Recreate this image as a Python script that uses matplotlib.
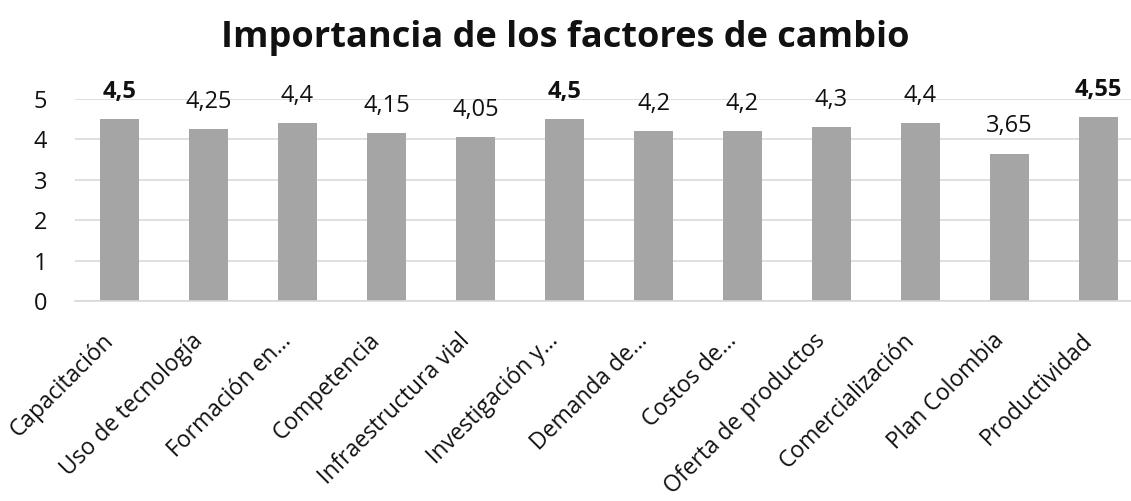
import matplotlib.pyplot as plt
import matplotlib.transforms as mtransforms
import numpy as np

plt.rcParams['font.family'] = ['Open Sans', 'DejaVu Sans']

# data
factores = ['Capacitación', 'Uso de tecnología', 'Formación en...', 'Competencia',
            'Infraestructura vial', 'Investigación y...', 'Demanda de...', 'Costos de...',
            'Oferta de productos', 'Comercialización', 'Plan Colombia', 'Productividad']
valores = [4.5, 4.25, 4.4, 4.15, 4.05, 4.5, 4.2, 4.2, 4.3, 4.4, 3.65, 4.55]
etiquetas = ['4,5', '4,25', '4,4', '4,15', '4,05', '4,5', '4,2', '4,2', '4,3', '4,4', '3,65', '4,55']
negrita = [True, False, False, False, False, True, False, False, False, False, False, True]

fig = plt.figure(figsize=(11.31, 5.01), dpi=100)
## axes run a bit past the right edge, like the cropped original
ax = fig.add_axes((75 / 1131, 200 / 501, 1068 / 1131, 202 / 501))

x = np.arange(len(factores))
ax.bar(x, valores, width=0.44, color='#A5A5A5', zorder=2)

for xi, v, lab, b in zip(x, valores, etiquetas, negrita):
    ax.annotate(lab, (xi, v), xytext=(0, 11), textcoords='offset points',
                ha='center', va='bottom', fontsize=17,
                fontweight='bold' if b else 'normal', color='#111111',
                annotation_clip=False)

ax.set_xlim(-0.5, 11.5)
ax.set_ylim(0, 5)
ax.set_yticks(range(6))
ax.yaxis.grid(True, color='#D9D9D9', linewidth=1.2, zorder=0)
ax.set_axisbelow(True)
for s in ['top', 'right', 'left']:
    ax.spines[s].set_visible(False)
ax.spines['bottom'].set_color('#D9D9D9')
ax.spines['bottom'].set_linewidth(1.2)
ax.tick_params(axis='both', length=0, labelsize=17, colors='#111111')
ax.tick_params(axis='y', pad=20)
ax.set_xticks(x)
ax.set_xticklabels(factores, rotation=45, ha='right', va='top', rotation_mode='anchor',
                   fontsize=16.5)
ax.tick_params(axis='x', pad=20)
## nudge the slanted labels a little to the left
shift = mtransforms.ScaledTranslation(-18 / 100, 0, fig.dpi_scale_trans)
for t in ax.get_xticklabels():
    t.set_transform(t.get_transform() + shift)

fig.text(0.5, 1 - 47 / 501, 'Importancia de los factores de cambio', ha='center',
         va='baseline', fontsize=26, fontweight='bold', color='#111111')

plt.savefig('out.png', dpi=100)
